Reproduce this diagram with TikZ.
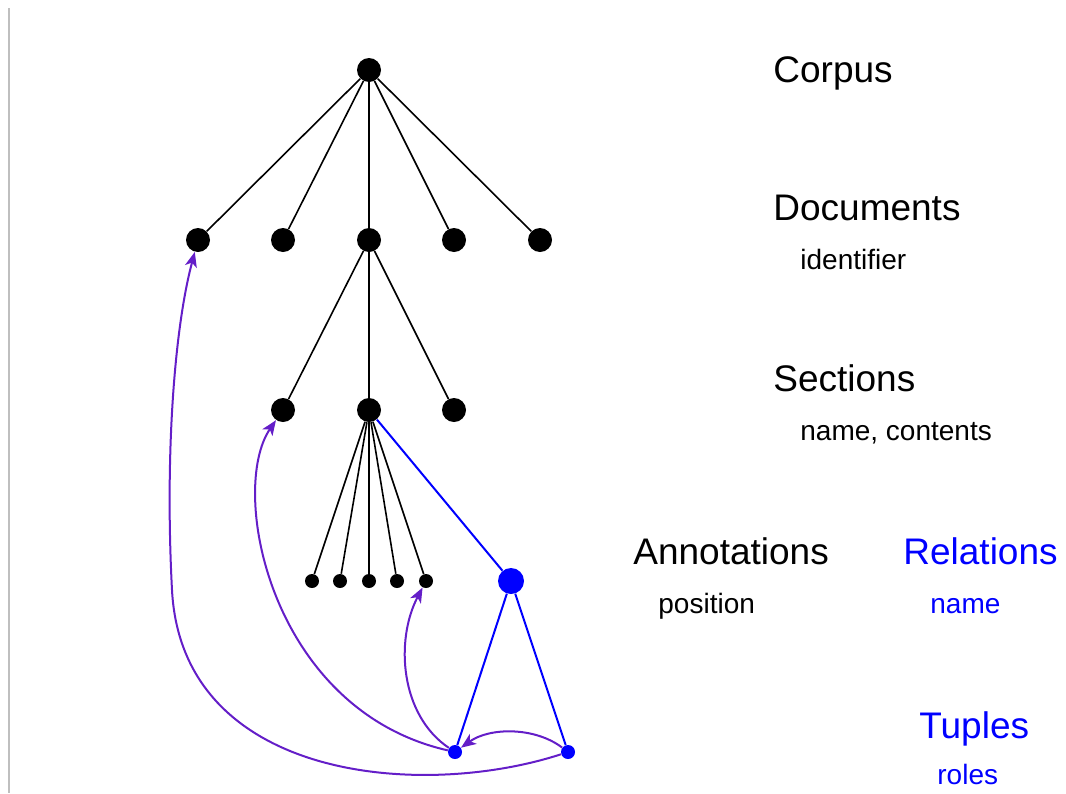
\documentclass[tikz,border=0pt]{standalone}
\usepackage{fontspec}
\setmainfont{Liberation Sans}
\usetikzlibrary{arrows.meta}
\definecolor{relblue}{RGB}{0,0,255}
\definecolor{linkviolet}{RGB}{100,30,200}

\begin{document}
\begin{tikzpicture}[x=0.5pt, y=-0.5pt,
    dot/.style={circle, fill=black, inner sep=0pt, minimum size=12pt},
    smalldot/.style={circle, fill=black, inner sep=0pt, minimum size=7pt},
    level/.style={anchor=base west, inner sep=0pt, font=\fontsize{18.5}{22}\selectfont},
    attr/.style={anchor=base west, inner sep=0pt, font=\fontsize{14}{17}\selectfont},
    link/.style={linkviolet, line width=1pt, -{Stealth[length=7.5pt, width=6pt, inset=2pt]}}]
    \useasboundingbox (0,0) rectangle (1066,793);
    \draw[black!25, line width=0.8pt] (9,8) -- (9,793);

    % Corpus, documentos, secciones y anotaciones.
    \node[dot] (corpus) at (369,70) {};
    \foreach \i/\x in {1/198,2/283,3/369,4/454,5/540} {
        \node[dot] (d\i) at (\x,240) {};
        \draw[line width=0.8pt] (corpus) -- (d\i);
    }
    \foreach \i/\x in {1/283,2/369,3/454} {
        \node[dot] (s\i) at (\x,410) {};
        \draw[line width=0.8pt] (d3) -- (s\i);
    }
    \foreach \i/\x in {1/312,2/340,3/369,4/397,5/426} {
        \node[smalldot] (a\i) at (\x,581) {};
        \draw[line width=0.8pt] (s2) -- (a\i);
    }

    % Relaciones y tuplas.
    \node[dot, fill=relblue, minimum size=13pt] (rel) at (511,581) {};
    \node[smalldot, fill=relblue] (t1) at (455,752) {};
    \node[smalldot, fill=relblue] (t2) at (568,752) {};
    \draw[relblue, line width=1pt] (s2) -- (rel);
    \draw[relblue, line width=1pt] (rel) -- (t1);
    \draw[relblue, line width=1pt] (rel) -- (t2);

    % Enlaces de los roles.
    \coordinate (bend) at (172,590);
    \draw[link] (t1) .. controls (400,715) and (395,640) .. (a5);
    \draw[link] (t1) .. controls (270,710) and (228,490) .. (s1);
    \draw[link] (t2) .. controls (420,800) and (182,780) .. (bend)
        .. controls (165,457) and (174,330) .. (d1);
    \draw[link] (t2) .. controls (535,727) and (490,727) .. (t1);

    % Rótulos de los niveles.
    \node[level] (lcorpus) at (773,82) {Corpus};
    \node[level] (ldocs) at (773,220) {Documents};
    \node[attr] (ldocsattr) at (800,269) {identifier};
    \node[level] (lsec) at (773,391) {Sections};
    \node[attr] (lsecattr) at (800,440) {name, contents};
    \node[level] (lann) at (633,564) {Annotations};
    \node[attr] (lannattr) at (658,613) {position};
    \node[level, relblue] (lrel) at (903,564) {Relations};
    \node[attr, relblue] (lrelattr) at (930,613) {name};
    \node[level, relblue] (ltup) at (919,738) {Tuples};
    \node[attr, relblue] (ltupattr) at (937,784) {roles};
\end{tikzpicture}
\end{document}
